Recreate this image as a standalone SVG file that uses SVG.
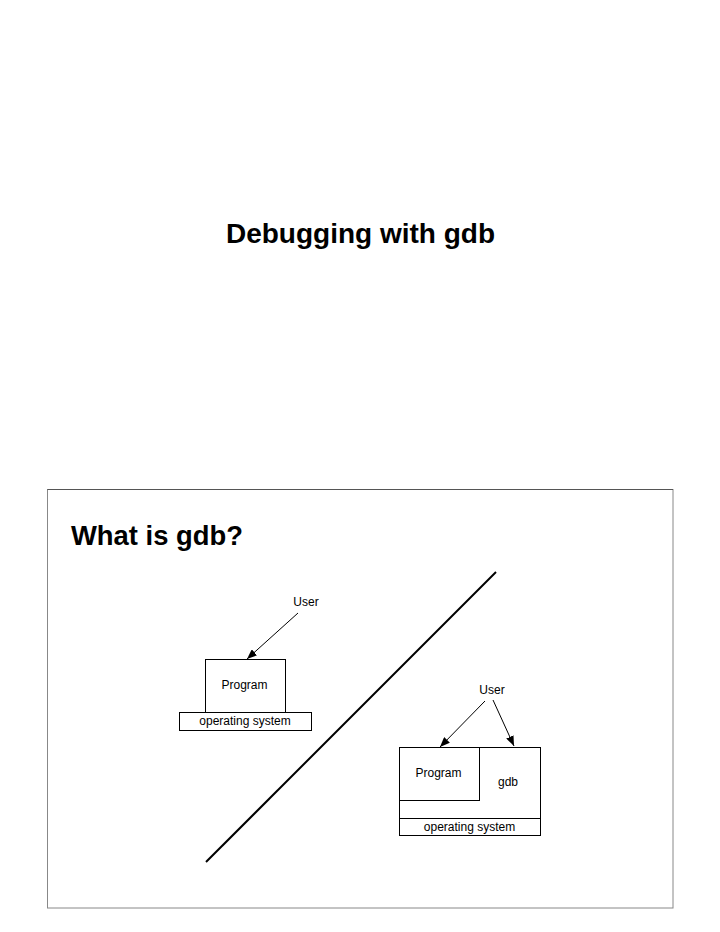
<svg xmlns="http://www.w3.org/2000/svg" width="720" height="932" viewBox="0 0 720 932">
<style>
text{font-family:"Liberation Sans",Arial,sans-serif;fill:#000}
.t{font-size:12px;text-anchor:middle}
.h{font-weight:bold}
.box{fill:#fff;stroke:#000;stroke-width:1}
.conn{stroke:#000;stroke-width:1;fill:none}
</style>
<defs>
<marker id="arr" viewBox="0 0 10 8" refX="10" refY="4" markerWidth="10" markerHeight="8" markerUnits="userSpaceOnUse" orient="auto">
<path d="M0,0 L10,4 L0,8 z" fill="#000"/>
</marker>
</defs>
<rect width="720" height="932" fill="#fff"/>
<text class="h" x="360.5" y="243" font-size="28" text-anchor="middle">Debugging with gdb</text>
<rect x="47.5" y="489.5" width="625.5" height="418.5" fill="none" stroke="#888" stroke-width="1"/>
<line x1="47.5" y1="489.5" x2="673" y2="489.5" stroke="#555" stroke-width="1"/>
<text class="h" x="71" y="545" font-size="27.4">What is gdb?</text>
<line x1="496" y1="572" x2="206" y2="862" stroke="#000" stroke-width="2"/>
<g id="left-user"><text class="t" x="306" y="606">User</text></g>
<g id="left-program"><rect class="box" x="205.5" y="659.5" width="80" height="53"/><text class="t" x="244.5" y="689">Program</text></g>
<g id="left-os"><rect class="box" x="179.5" y="712.5" width="132" height="18"/><text class="t" x="245" y="725">operating system</text></g>
<g id="right-user"><text class="t" x="492" y="694">User</text></g>
<g id="right-gdb"><rect class="box" x="399.5" y="747.5" width="141" height="88"/><text class="t" x="508" y="786">gdb</text></g>
<g id="right-program"><rect class="box" x="399.5" y="747.5" width="80" height="53"/><text class="t" x="438.5" y="777">Program</text></g>
<g id="right-os"><rect class="box" x="399.5" y="818.5" width="141" height="17"/><text class="t" x="469.5" y="831">operating system</text></g>
<g id="connectors">
<line class="conn" x1="298" y1="613" x2="247" y2="659" marker-end="url(#arr)"/>
<line class="conn" x1="485" y1="701" x2="440" y2="747" marker-end="url(#arr)"/>
<line class="conn" x1="493" y1="700" x2="514" y2="746" marker-end="url(#arr)"/>
</g>
</svg>
